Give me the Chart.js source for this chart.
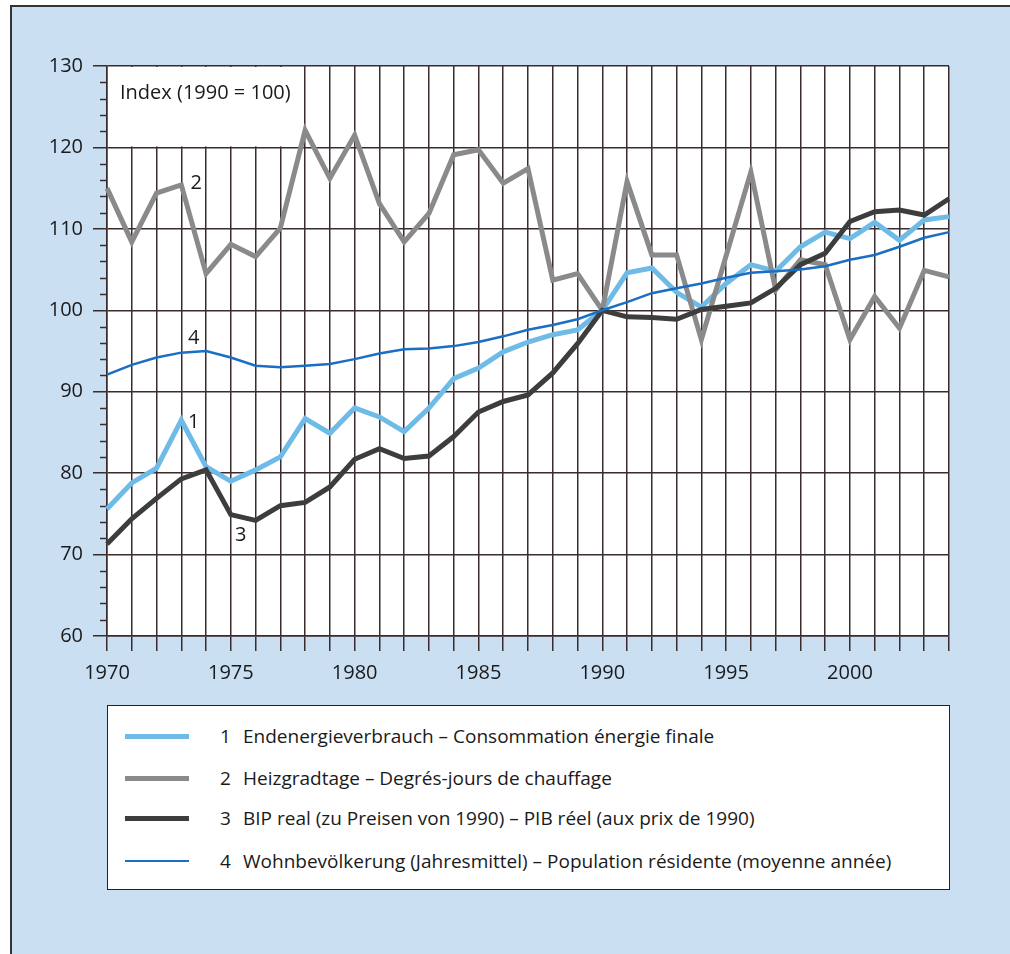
<!DOCTYPE html>
<html lang="de">
<head>
<meta charset="UTF-8">
<title>Index (1990 = 100)</title>
<style>
  html, body { margin: 0; padding: 0; background: #fff; }
  body { width: 1010px; height: 954px; overflow: hidden; position: relative; font-family: 'Open Sans', sans-serif; color: #1a1a1a; }
  .frame { position: absolute; left: 10px; top: 5px; width: 1010px; height: 960px; background: #cadff2; border-left: 2px solid #333; border-top: 2px solid #333; }
  .chart-box { position: absolute; left: 0; top: 0; width: 1010px; height: 700px; }
  .legend { position: absolute; left: 107px; top: 705px; width: 843px; height: 185px; background: #fff; border: 1.5px solid #222; box-sizing: border-box; }
  .legend .row { position: absolute; left: 0; height: 30px; width: 100%; font-size: 19px; line-height: 30px; }
  .legend .swatch { position: absolute; left: 17px; top: 13px; width: 64px; height: 5px; }
  .legend .num { position: absolute; left: 112px; }
  .legend .txt { position: absolute; left: 135px; white-space: nowrap; }
</style>
</head>
<body>
<div class="frame"></div>
<div class="chart-box"><canvas id="chart"></canvas></div>
<div class="legend" id="legend"></div>

<script src="https://cdn.jsdelivr.net/npm/chart.js"></script>
<script>
  const years = [1970, 1971, 1972, 1973, 1974, 1975, 1976, 1977, 1978, 1979,
                 1980, 1981, 1982, 1983, 1984, 1985, 1986, 1987, 1988, 1989,
                 1990, 1991, 1992, 1993, 1994, 1995, 1996, 1997, 1998, 1999,
                 2000, 2001, 2002, 2003, 2004];

  // 1 Endenergieverbrauch
  const energy = [75.6, 78.8, 80.6, 86.5, 80.8, 79.0, 80.4, 82.0, 86.7, 84.9,
                  88.0, 86.9, 85.1, 88.0, 91.6, 92.9, 94.9, 96.1, 97.0, 97.6,
                  100.0, 104.6, 105.2, 102.2, 100.4, 103.3, 105.6, 104.8, 107.8, 109.6,
                  108.8, 110.8, 108.6, 111.1, 111.5];

  // 2 Heizgradtage
  const heating = [115.0, 108.4, 114.4, 115.4, 104.5, 108.1, 106.6, 110.1, 122.1, 116.2,
                   121.5, 113.1, 108.4, 111.9, 119.1, 119.7, 115.6, 117.4, 103.7, 104.5,
                   100.0, 115.8, 106.8, 106.8, 96.4, 106.7, 117.0, 102.5, 106.2, 105.6,
                   96.4, 101.7, 97.8, 104.9, 104.1];

  // 3 BIP real
  const gdp = [71.3, 74.4, 76.9, 79.3, 80.4, 74.9, 74.2, 76.0, 76.4, 78.3,
               81.7, 83.0, 81.8, 82.1, 84.5, 87.5, 88.8, 89.6, 92.3, 95.9,
               100.0, 99.2, 99.1, 98.9, 100.1, 100.5, 100.9, 102.7, 105.6, 107.0,
               110.9, 112.1, 112.3, 111.7, 113.7];

  // 4 Wohnbevölkerung
  const population = [92.1, 93.3, 94.2, 94.8, 95.0, 94.2, 93.2, 93.0, 93.2, 93.4,
                      94.0, 94.7, 95.2, 95.3, 95.6, 96.1, 96.8, 97.6, 98.2, 98.9,
                      100.0, 101.0, 102.1, 102.7, 103.3, 104.0, 104.6, 104.8, 105.0, 105.4,
                      106.2, 106.8, 107.8, 108.9, 109.6];

  const seriesNames = [
    ['1', 'Endenergieverbrauch – Consommation énergie finale'],
    ['2', 'Heizgradtage – Degrés-jours de chauffage'],
    ['3', 'BIP real (zu Preisen von 1990) – PIB réel (aux prix de 1990)'],
    ['4', 'Wohnbevölkerung (Jahresmittel) – Population résidente (moyenne année)']
  ];
  const seriesColors = ['#6fbbe8', '#8a8a8a', '#3d3d3d', '#1a6ec4'];
  const seriesWidths = [5, 5, 5, 2.5];

  const gridColor = '#3a2c2c';
  const fontFamily = "'Open Sans', sans-serif";

  // legend as HTML
  const legendEl = document.getElementById('legend');
  const rowTops = [15, 57, 97, 140];
  seriesNames.forEach((s, i) => {
    const row = document.createElement('div');
    row.className = 'row';
    row.style.top = rowTops[i] + 'px';
    row.innerHTML = `<div class="swatch" style="background:${seriesColors[i]};height:${seriesWidths[i]}px;top:${15 - seriesWidths[i] / 2}px"></div>` +
      `<span class="num">${s[0]}</span><span class="txt">${s[1]}</span>`;
    legendEl.appendChild(row);
  });

  // white plot area, label box, minor ticks, series numbers
  const decor = {
    id: 'decor',
    beforeDraw(chart) {
      const { ctx, chartArea: a } = chart;
      ctx.save();
      ctx.fillStyle = '#fff';
      ctx.fillRect(a.left, a.top, a.right - a.left, a.bottom - a.top);
      ctx.restore();
    },
    beforeDatasetsDraw(chart) {
      const { ctx, scales: { x, y } } = chart;
      ctx.save();
      // box behind "Index" label hides the grid
      const l = x.getPixelForValue(0) + 1;
      const r = x.getPixelForValue(8) - 1.5;
      const t = y.getPixelForValue(130) + 1;
      const b = y.getPixelForValue(120) - 1;
      ctx.fillStyle = '#fff';
      ctx.fillRect(l, t, r - l, b - t);

      // minor ticks on the y axis
      ctx.strokeStyle = gridColor;
      ctx.lineWidth = 1.5;
      for (let v = 62; v < 130; v += 2) {
        if (v % 10 === 0) continue;
        const py = Math.round(y.getPixelForValue(v)) + 0.5;
        ctx.beginPath();
        ctx.moveTo(x.left - 7, py);
        ctx.lineTo(x.left, py);
        ctx.stroke();
      }

      ctx.fillStyle = '#1a1a1a';
      ctx.font = `20px ${fontFamily}`;
      ctx.textBaseline = 'middle';
      ctx.textAlign = 'left';
      ctx.fillText('Index (1990 = 100)', x.left + 13, y.getPixelForValue(126.7));
      ctx.restore();
    },
    afterDatasetsDraw(chart) {
      const { ctx, scales: { x, y } } = chart;
      const marks = [['1', 3.5, 86.2], ['2', 3.6, 115.6], ['3', 5.4, 72.4], ['4', 3.5, 96.6]];
      ctx.save();
      ctx.fillStyle = '#1a1a1a';
      ctx.font = `20px ${fontFamily}`;
      ctx.textBaseline = 'middle';
      ctx.textAlign = 'center';
      marks.forEach(m => ctx.fillText(m[0], x.getPixelForValue(m[1]), y.getPixelForValue(m[2])));
      ctx.restore();
    }
  };

  const data = {
    labels: years,
    datasets: [energy, heating, gdp, population].map((vals, i) => ({
      label: seriesNames[i][1],
      data: vals,
      borderColor: seriesColors[i],
      borderWidth: seriesWidths[i],
      pointRadius: 0,
      tension: 0,
      fill: false,
      order: i === 3 ? 0 : 4 - i
    }))
  };

  const config = {
    type: 'line',
    data: data,
    options: {
      responsive: true,
      maintainAspectRatio: false,
      animation: false,
      layout: { padding: { top: 66, right: 61, left: 0, bottom: 0 } },
      plugins: {
        legend: { display: false },
        tooltip: { enabled: false }
      },
      scales: {
        x: {
          offset: false,
          afterFit: scale => { scale.height = 64; },
          border: { color: gridColor, width: 1.5 },
          grid: { color: gridColor, lineWidth: 1.5, tickLength: 15, tickColor: gridColor },
          ticks: {
            autoSkip: false,
            maxRotation: 0,
            padding: 10,
            color: '#1a1a1a',
            font: { family: fontFamily, size: 20 },
            callback: (v, i) => (years[i] % 5 === 0 ? String(years[i]) : '')
          }
        },
        y: {
          min: 60,
          max: 130,
          afterFit: scale => { scale.width = 107; },
          border: { color: gridColor, width: 1.5 },
          grid: {
            lineWidth: 1.5,
            tickLength: 14,
            color: c => (c.tick && c.tick.value % 10 === 0 ? gridColor : 'rgba(0,0,0,0)'),
            tickColor: c => (c.tick && c.tick.value % 10 === 0 ? gridColor : 'rgba(0,0,0,0)')
          },
          ticks: {
            autoSkip: false,
            stepSize: 2,
            padding: 10,
            color: '#1a1a1a',
            font: { family: fontFamily, size: 20 },
            callback: v => (v % 10 === 0 ? String(v) : '')
          }
        }
      }
    },
    plugins: [decor]
  };

  new Chart(document.getElementById('chart').getContext('2d'), config);
</script>
</body>
</html>
